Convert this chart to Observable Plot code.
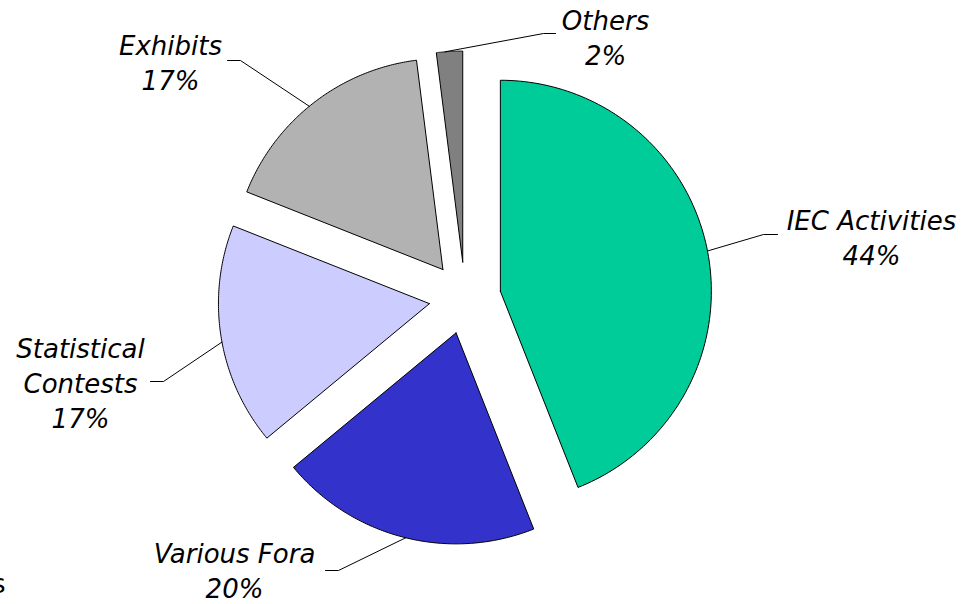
<!DOCTYPE html>
<html>
<head>
<meta charset="utf-8">
<script src="https://cdn.jsdelivr.net/npm/d3@7"></script>
<script src="https://cdn.jsdelivr.net/npm/@observablehq/plot@0.6"></script>
<style>
  html, body { margin: 0; padding: 0; background: #fff; }
  #chart svg { display: block; }
</style>
</head>
<body>
<div id="chart"></div>
<script>
// ---- data ----
const categories = ["IEC Activities", "Various Fora", "Statistical Contests", "Exhibits", "Others"];
const shares = [44, 20, 17, 17, 2];
const labelNames = ["IEC Activities", "Various Fora", "Statistical\nContests", "Exhibits", "Others"];
const colors = ["#00CC99", "#3333CC", "#CCCCFF", "#B2B2B2", "#808080"];

// ---- layout (not data) ----
const W = 966, H = 604;
const CX = 464.5, CY = 297.5, R = 211, EXPLODE = 36;
const labelX = [871, 234, 80, 170, 605];
const labelY = [236, 569, 381, 61, 36];
const leaderAngle = [79, 193.8, 259.5, 320.7, 355.2];
const leaderEndX = [777, 325, 150, 227, 555];
const leaderEndY = [234, 570, 381, 60, 33];
const elbowX = [763, 338, 163, 240, 543];

const arcs = d3.pie().sort(null).value(d => d)(shares);

const slicePts = [];
const leaderPts = [];
arcs.forEach((a, i) => {
  const mid = (a.startAngle + a.endAngle) / 2;
  const ox = CX + EXPLODE * Math.sin(mid);
  const oy = CY - EXPLODE * Math.cos(mid);
  const cat = categories[i];
  slicePts.push({cat, x: ox, y: oy});
  const n = 120;
  for (let k = 0; k <= n; k++) {
    const t = a.startAngle + (a.endAngle - a.startAngle) * k / n;
    slicePts.push({cat, x: ox + R * Math.sin(t), y: oy - R * Math.cos(t)});
  }
  slicePts.push({cat, x: ox, y: oy});
  const la = leaderAngle[i] * Math.PI / 180;
  leaderPts.push({cat, x: ox + R * Math.sin(la), y: oy - R * Math.cos(la)});
  leaderPts.push({cat, x: elbowX[i], y: leaderEndY[i]});
  leaderPts.push({cat, x: leaderEndX[i], y: leaderEndY[i]});
});

const labelData = categories.map((c, i) => ({
  cat: c, x: labelX[i], y: labelY[i], text: `${labelNames[i]}\n${shares[i]}%`
}));

const chart = Plot.plot({
  width: W, height: H, margin: 0,
  x: {domain: [0, W], range: [0, W], axis: null},
  y: {domain: [0, H], range: [0, H], axis: null},
  color: {domain: categories, range: colors},
  marks: [
    Plot.line(slicePts, {x: "x", y: "y", z: "cat", fill: "cat", stroke: "black", strokeWidth: 1, curve: "linear"}),
    Plot.line(leaderPts, {x: "x", y: "y", z: "cat", stroke: "black", strokeWidth: 1}),
    Plot.text(labelData, {x: "x", y: "y", text: "text", fontSize: 26, fontFamily: "DejaVu Sans", fontStyle: "italic", lineHeight: 1.35, fill: "black"}),
    Plot.text(["s"], {x: () => 5, y: () => 584, text: d => d, textAnchor: "end", fontSize: 26, fontFamily: "DejaVu Sans", fill: "black"})
  ]
});
document.getElementById("chart").appendChild(chart);
</script>
</body>
</html>
